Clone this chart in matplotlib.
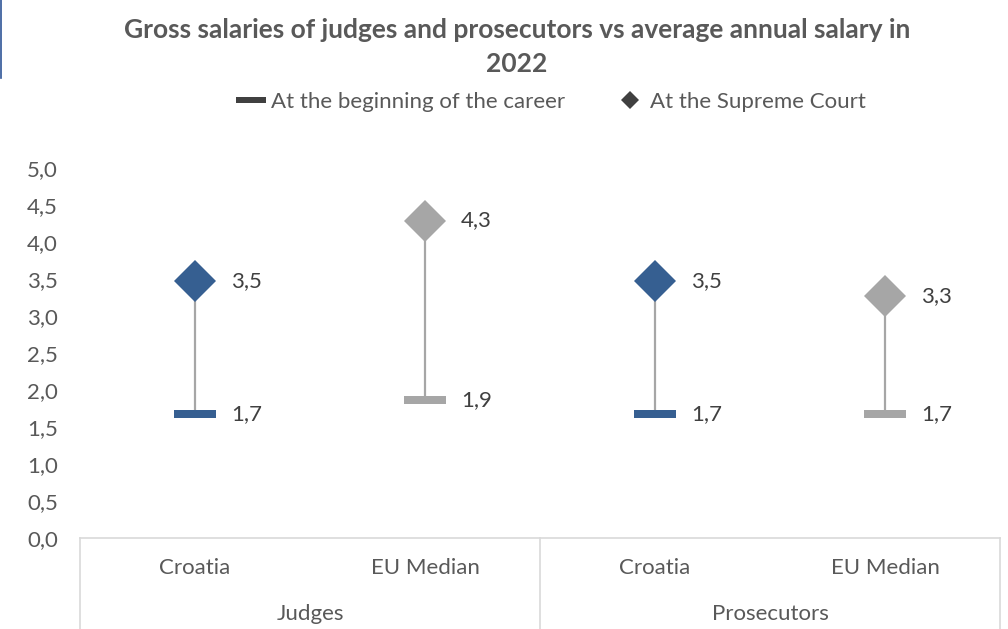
import numpy as np
import matplotlib
matplotlib.use("Agg")
import matplotlib.pyplot as plt
from matplotlib.lines import Line2D
from matplotlib.transforms import blended_transform_factory

plt.rcParams['font.family'] = ['Lato', 'DejaVu Sans']

# data
categories = ["Croatia", "EU Median", "Croatia", "EU Median"]
groups = ["Judges", "Prosecutors"]
career_start = [1.68, 1.86, 1.68, 1.68]
supreme_court = [3.47, 4.29, 3.47, 3.27]
point_colors = ["#365F91", "#A6A6A6", "#365F91", "#A6A6A6"]

title = "Gross salaries of judges and prosecutors vs average annual salary in\n2022"
legend_labels = ["At the beginning of the career", "At the Supreme Court"]

TEXT = "#595959"
LABEL = "#404040"
GRID = "#D9D9D9"
FS = 16

W, H = 1008, 629
fig = plt.figure(figsize=(W / 100, H / 100), dpi=100)
ax = fig.add_axes([80 / W, 1 - 538 / H, 920 / W, 370 / H])

x = np.arange(len(categories))

# flat bar marker for the career start
bar = [(-2.33, -0.5), (2.33, -0.5), (2.33, 0.5), (-2.33, 0.5), (-2.33, -0.5)]

ax.vlines(x, career_start, supreme_court, color="#A6A6A6", lw=1.6, zorder=1)
for i in range(len(x)):
    ax.plot(x[i], career_start[i], marker=bar, ms=30, color=point_colors[i],
            mec=point_colors[i], mew=0, ls="none", zorder=2)
    ax.plot(x[i], supreme_court[i], marker="D", ms=21.5, color=point_colors[i],
            mec=point_colors[i], mew=0, ls="none", zorder=2)
    ax.annotate(f"{career_start[i]:.1f}".replace(".", ","), (x[i], career_start[i]),
                xytext=(26, 0), textcoords="offset points", va="center",
                fontsize=FS, color=LABEL)
    ax.annotate(f"{supreme_court[i]:.1f}".replace(".", ","), (x[i], supreme_court[i]),
                xytext=(26, 0), textcoords="offset points", va="center",
                fontsize=FS, color=LABEL)

ax.set_xlim(-0.5, len(x) - 0.5)
ax.set_ylim(0, 5)
ax.set_yticks(np.arange(0, 5.01, 0.5))
ax.set_yticklabels([f"{v:.1f}".replace(".", ",") for v in np.arange(0, 5.01, 0.5)])
ax.tick_params(axis="y", length=0, pad=16, labelsize=FS, labelcolor=TEXT)
ax.set_xticks([])
for s in ["top", "right", "left"]:
    ax.spines[s].set_visible(False)
ax.spines["bottom"].set_color(GRID)
ax.spines["bottom"].set_linewidth(1.2)

# two-level category axis
tr = blended_transform_factory(ax.transData, ax.transAxes)
box_bottom = -(H - 538) / 370
for xv in [-0.5, 1.5, 3.5]:
    ax.add_line(Line2D([xv, xv], [0, box_bottom], transform=tr, color=GRID,
                       lw=1.2, clip_on=False))
for i, c in enumerate(categories):
    ax.text(i, -30 / 370, c, transform=tr, ha="center", va="center",
            fontsize=FS, color=TEXT)
for j, g in enumerate(groups):
    ax.text(2 * j + 0.5, -76 / 370, g, transform=tr, ha="center", va="center",
            fontsize=FS, color=TEXT)

fig.text(517 / W, 1 - 47 / H, title, ha="center", va="center", fontsize=19,
         fontweight="bold", color=TEXT, linespacing=1.45)

handles = [
    Line2D([], [], marker=bar, ms=22, color="#404040", mew=0, ls="none"),
    Line2D([], [], marker="D", ms=9.5, color="#404040", mew=0, ls="none"),
]
fig.legend(handles, legend_labels, loc="center", bbox_to_anchor=(552 / W, 1 - 102 / H),
           ncol=2, frameon=False, fontsize=FS, labelcolor=TEXT, handlelength=1.2,
           handletextpad=0.3, columnspacing=2.3)

# left edge remnants of the screenshot
fig.add_artist(Line2D([1 / W, 1 / W], [1, 1 - 78 / H], color="#2F5597", lw=1.2))

fig.savefig("out.png", dpi=100)
